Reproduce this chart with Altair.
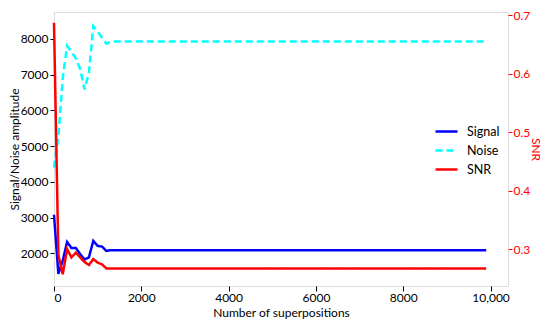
import altair as alt
import pandas as pd

superpositions = [0, 100, 200, 300, 400, 500, 600, 700, 800, 900, 1000, 1100, 1200, 1300, 9900]
signal = [3080, 1430, 1800, 2320, 2150, 2150, 1980, 1830, 1890, 2350, 2210, 2190, 2070, 2090, 2090]
noise = [4400, 5250, 6900, 7800, 7640, 7450, 7150, 6580, 7050, 8350, 8200, 8030, 7860, 7920, 7920]
snr = [0.687, 0.29, 0.257, 0.300, 0.286, 0.294, 0.286, 0.278, 0.273, 0.283, 0.277, 0.274, 0.267, 0.267, 0.267]

series_names = ["Signal", "Noise", "SNR"]
series_colors = ["#0000ff", "#00ffff", "#ff0000"]
series_dashes = [[1, 0], [7, 4], [1, 0]]
x_ticks = [0, 2000, 4000, 6000, 8000, 10000]
left_ticks = [2000, 3000, 4000, 5000, 6000, 7000, 8000]
right_ticks = [0.3, 0.4, 0.5, 0.6, 0.7]

rows = []
for name, vals in zip(series_names, [signal, noise, snr]):
    for xv, v in zip(superpositions, vals):
        rows.append({"x": xv, "value": v, "series": name})
df = pd.DataFrame(rows)

FONT = "Lato"
FS = 12

legend = alt.Legend(
    title=None, orient="none", legendX=380, legendY=107,
    symbolType="stroke", symbolSize=484, symbolStrokeWidth=2.5,
    labelFont=FONT, labelFontSize=12.5, labelColor="#000000",
    rowPadding=-6, labelOffset=8, symbolOffset=0,
)
color = alt.Color("series:N", scale=alt.Scale(domain=series_names, range=series_colors), legend=legend)
dash = alt.StrokeDash("series:N", scale=alt.Scale(domain=series_names, range=series_dashes), legend=legend)

x_enc = alt.X(
    "x:Q",
    scale=alt.Scale(domain=[0, 10400], nice=False, zero=False),
    axis=alt.Axis(
        values=x_ticks, format="d",
        labelExpr="datum.value == 10000 ? '10,000' : datum.label",
        title="Number of superpositions", grid=False, domain=False,
        tickSize=5, tickColor="#000000", labelPadding=1,
        titleY=30, titleBaseline="alphabetic",
        labelFont=FONT, labelFontSize=FS, titleFont=FONT, titleFontSize=FS,
        titleFontWeight="normal", labelColor="#000000", titleColor="#000000",
    ),
)

left = alt.Chart(df).transform_filter(
    "datum.series == 'Signal' || datum.series == 'Noise'"
).mark_line(strokeWidth=2.5).encode(
    x=x_enc,
    y=alt.Y(
        "value:Q",
        scale=alt.Scale(domain=[1089, 8747], nice=False, zero=False),
        axis=alt.Axis(
            values=left_ticks, format="d", title="Signal/Noise amplitude", grid=False, domain=False,
            tickSize=4, tickColor="#000000", labelPadding=2,
            titleX=-40, titleBaseline="middle",
            labelFont=FONT, labelFontSize=FS, titleFont=FONT, titleFontSize=FS,
            titleFontWeight="normal", labelColor="#000000", titleColor="#000000",
        ),
    ),
    color=color,
    strokeDash=dash,
    order="x:Q",
)

right = alt.Chart(df).transform_filter(
    "datum.series == 'SNR'"
).mark_line(strokeWidth=2.5).encode(
    x=x_enc,
    y=alt.Y(
        "value:Q",
        scale=alt.Scale(domain=[0.237, 0.7055], nice=False, zero=False),
        axis=alt.Axis(
            orient="right", values=right_ticks, format=".1f", title="SNR", grid=False, domain=False,
            tickSize=4, tickColor="#ff0000", labelPadding=1,
            titleX=27, titleBaseline="middle",
            labelFont=FONT, labelFontSize=FS, titleFont=FONT, titleFontSize=FS,
            titleFontWeight="normal", labelColor="#ff0000", titleColor="#ff0000",
        ),
    ),
    color=color,
    strokeDash=dash,
    order="x:Q",
)

chart = alt.layer(left, right).resolve_scale(y="independent").properties(
    width=454, height=274,
    autosize=alt.AutoSizeParams(type="none"),
    padding={"left": 46, "top": 4, "right": 34, "bottom": 33},
).configure_view(stroke="#000000", strokeWidth=1).configure(background="white")

chart.save("out.html", embed_options={"renderer": "svg", "actions": False})
